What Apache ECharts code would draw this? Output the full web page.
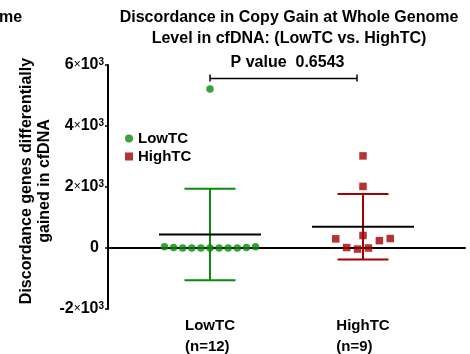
<!DOCTYPE html>
<html>
<head>
<meta charset="utf-8">
<script src="https://cdn.jsdelivr.net/npm/echarts@6/dist/echarts.min.js"></script>
<style>
html, body { margin: 0; padding: 0; background: #fff; }
#main { width: 470px; height: 354px; }
</style>
</head>
<body>
<div id="main"></div>
<script>
// category slots of the x axis, groups sit at slot 2 and 5
const slots = ['', '', 'LowTC', '', '', 'HighTC', '', ''];
// discordance genes differentially gained, one value per sample
const lowTC = [5210, 0, 0, 0, 0, 0, 0, 0, 20, 20, 40, 40];
const highTC = [3020, 2020, 410, 300, 15, -35, 0, 240, 310];
const yTicks = [-2000, 0, 2000, 4000, 6000];
const pValue = '0.6543';
const bracketY = 5560;

const FONT = '"Liberation Sans", Arial, sans-serif';
const GREEN = '#0b8a0b';
const RED = '#a30000';
const counts = { LowTC: lowTC.length, HighTC: highTC.length };

function stats(a) {
  const m = a.reduce((s, v) => s + v, 0) / a.length;
  const sd = Math.sqrt(a.reduce((s, v) => s + (v - m) * (v - m), 0) / (a.length - 1));
  return [m, sd];
}

// rows of near equal values are spread sideways, from the centre out
function swarm(values, spacing) {
  const order = values.map((v, i) => i).sort((a, b) => values[a] - values[b]);
  const off = values.map(() => 0);
  let row = [];
  const flush = () => {
    const n = row.length, pos = [];
    if (n % 2) { pos.push(0); for (let k = 1; k <= (n - 1) / 2; k++) pos.push(-k, k); }
    else { for (let k = 0; k < n / 2; k++) pos.push(-(k + 0.5), k + 0.5); }
    row.forEach((i, j) => { off[i] = pos[j] * spacing; });
    row = [];
  };
  order.forEach(i => {
    if (row.length && values[i] - values[row[0]] > 400) flush();
    row.push(i);
  });
  flush();
  return off;
}

function points(values, slot, spacing) {
  const off = swarm(values, spacing);
  return values.map((v, i) => ({ value: [slot, v], symbolOffset: [off[i], 0] }));
}

function errorBar(color) {
  return function (params, api) {
    const x = api.value(0), m = api.value(1), sd = api.value(2);
    const c = api.coord([x, m]);
    const top = api.coord([x, m + sd])[1];
    const bot = api.coord([x, m - sd])[1];
    const gap = api.coord([x + 1, m])[0] - c[0];
    const st = { stroke: color, lineWidth: 2 };
    return {
      type: 'group',
      children: [
        { type: 'line', shape: { x1: c[0], y1: top, x2: c[0], y2: bot }, style: st },
        { type: 'line', shape: { x1: c[0] - gap / 2, y1: top, x2: c[0] + gap / 2, y2: top }, style: st },
        { type: 'line', shape: { x1: c[0] - gap / 2, y1: bot, x2: c[0] + gap / 2, y2: bot }, style: st },
        { type: 'line', shape: { x1: c[0] - gap, y1: c[1], x2: c[0] + gap, y2: c[1] }, style: { stroke: '#000', lineWidth: 2 } }
      ]
    };
  };
}

function bracket(params, api) {
  const a = api.coord([api.value(0), api.value(2)]);
  const b = api.coord([api.value(1), api.value(2)]);
  const x1 = a[0], x2 = b[0] - 6, y = a[1];
  const st = { stroke: '#000', lineWidth: 1.5 };
  return {
    type: 'group',
    children: [
      { type: 'line', shape: { x1: x1, y1: y, x2: x2, y2: y }, style: st },
      { type: 'line', shape: { x1: x1, y1: y - 4, x2: x1, y2: y + 3 }, style: st },
      { type: 'line', shape: { x1: x2, y1: y - 4, x2: x2, y2: y + 3 }, style: st },
      { type: 'text', style: { text: 'P value  ' + pValue, x: (x1 + x2) / 2 + 4, y: y - 16,
        align: 'center', verticalAlign: 'middle', fill: '#000',
        fontSize: 16, fontWeight: 'bold', fontFamily: FONT } }
    ]
  };
}

function sci(v) {
  if (v === 0) return '{z|0}';
  return '{n|' + (v / 1000) + '}{x|×}{n|10}{s|3}';
}

const lowIdx = slots.indexOf('LowTC');
const highIdx = slots.indexOf('HighTC');
const lowStats = stats(lowTC);
const highStats = stats(highTC);

const chart = echarts.init(document.getElementById('main'));
chart.setOption({
  animation: false,
  textStyle: { fontFamily: FONT },
  title: {
    text: 'Discordance in Copy Gain at Whole Genome\nLevel in cfDNA: (LowTC vs. HighTC)',
    left: 284, top: 2, textAlign: 'center',
    textStyle: { fontSize: 16, fontWeight: 'bold', lineHeight: 21, color: '#000', fontFamily: FONT }
  },
  graphic: [
    { type: 'text', left: -1, top: 10, style: { text: 'me', fontSize: 16, fontWeight: 'bold', fontFamily: FONT, fill: '#000' } },
    { type: 'text', x: 36, y: 181, rotation: Math.PI / 2,
      style: { text: 'Discordance genes differentially\ngained in cfDNA', align: 'center', verticalAlign: 'middle',
        fontSize: 16, fontWeight: 'bold', lineHeight: 18, fontFamily: FONT, fill: '#000' } }
  ],
  legend: {
    orient: 'vertical', left: 120, top: 126, itemGap: 3,
    itemWidth: 8, itemHeight: 8,
    data: [{ name: 'LowTC', icon: 'circle' }, { name: 'HighTC', icon: 'rect' }],
    textStyle: { fontSize: 15, fontWeight: 'bold', color: '#000' }
  },
  grid: { left: 108, right: 5, top: 65, bottom: 45, outerBoundsMode: 'none' },
  xAxis: {
    type: 'category', data: slots, boundaryGap: false,
    axisLine: { lineStyle: { color: '#000', width: 2 } },
    axisTick: { show: true, length: 4, interval: (i, v) => v !== '', lineStyle: { color: '#000', width: 1.5 } },
    axisLabel: {
      interval: (i, v) => v !== '', margin: 6, color: '#000',
      formatter: v => v ? '{a|' + v + '}\n{a|(n=' + counts[v] + ')}' : '',
      rich: { a: { fontSize: 15, fontWeight: 'bold', lineHeight: 21, align: 'left', color: '#000' } }
    },
    splitLine: { show: false }
  },
  yAxis: {
    type: 'value', min: yTicks[0], max: yTicks[yTicks.length - 1], interval: yTicks[1] - yTicks[0],
    axisLine: { show: true, lineStyle: { color: '#000', width: 2 } },
    axisTick: { show: true, length: 3, lineStyle: { color: '#000', width: 1.5 } },
    splitLine: { show: false },
    axisLabel: {
      margin: 4, color: '#000', formatter: sci,
      rich: {
        n: { fontSize: 16, fontWeight: 'bold', lineHeight: 16, color: '#000' },
        x: { fontSize: 12, color: '#000' },
        s: { fontSize: 10, fontWeight: 'bold', verticalAlign: 'top', color: '#000' },
        z: { fontSize: 16, fontWeight: 'bold', padding: [0, 5, 0, 0], color: '#000' }
      }
    }
  },
  series: [
    { name: 'LowTC', type: 'scatter', symbol: 'circle', symbolSize: 7.5,
      itemStyle: { color: GREEN }, data: points(lowTC, lowIdx, 9.1) },
    { name: 'HighTC', type: 'scatter', symbol: 'rect', symbolSize: 7.5,
      itemStyle: { color: RED }, data: points(highTC, highIdx, 10.9) },
    { type: 'custom', z: 3, renderItem: errorBar(GREEN), data: [[lowIdx, lowStats[0], lowStats[1]]] },
    { type: 'custom', z: 3, renderItem: errorBar(RED), data: [[highIdx, highStats[0], highStats[1]]] },
    { type: 'custom', z: 3, renderItem: bracket, data: [[lowIdx, highIdx, bracketY]] }
  ]
});
</script>
</body>
</html>
